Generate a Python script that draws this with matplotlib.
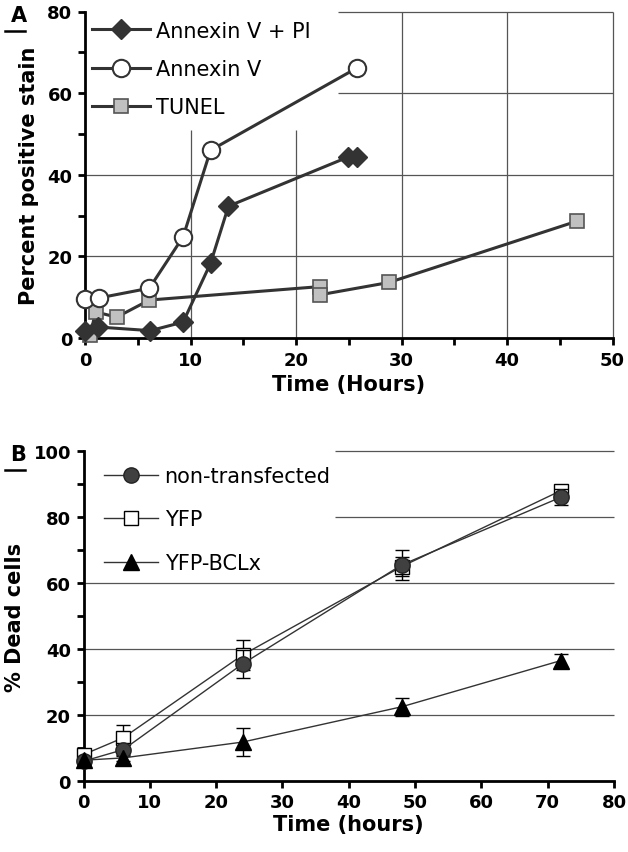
import numpy as np
import matplotlib
matplotlib.use("Agg")
import matplotlib.pyplot as plt
from matplotlib.lines import Line2D

# ---- panel A data ----
pi_x = [0, 1.2, 6.2, 9.3, 11.9, 13.6, 24.9, 25.8]
pi_y = [1.8, 2.7, 1.8, 3.9, 18.3, 32.3, 44.3, 44.3]
anx_x = [0, 1.3, 6.1, 9.3, 11.9, 25.8]
anx_y = [9.6, 9.8, 12.2, 24.8, 46.0, 66.2]
tun_x = [0.5, 1.0, 3.0, 6.1, 22.3, 22.3, 28.8, 46.6]
tun_y = [0.8, 6.4, 5.1, 9.3, 12.6, 10.6, 13.6, 28.6]

# ---- panel B data ----
hours = [0, 6, 24, 48, 72]
nontr = [6.0, 9.5, 35.5, 65.5, 86.0]
nontr_err = [1.5, 2.0, 4.3, 4.5, 2.5]
yfp = [8.0, 13.1, 38.2, 65.0, 88.0]
yfp_err = [1.5, 4.0, 4.5, 3.0, 1.0]
bclx = [6.3, 7.0, 11.8, 22.5, 36.5]
bclx_err = [1.0, 1.0, 4.3, 2.8, 2.0]

W, H = 628, 853
fig = plt.figure(figsize=(W / 100, H / 100), dpi=100)


def px_axes(l, r, t, b):
    return fig.add_axes([l / W, 1 - b / H, (r - l) / W, (b - t) / H])


def style(ax):
    for s in ["top", "right"]:
        ax.spines[s].set_visible(False)
    for s in ["left", "bottom"]:
        ax.spines[s].set_linewidth(2.0)
    ax.tick_params(which="both", direction="out", length=5, width=2.0)
    ax.tick_params(axis="both", labelsize=13, pad=4)
    for lab in ax.get_xticklabels() + ax.get_yticklabels():
        lab.set_fontweight("bold")


dk = "#333333"
grid = "#555555"

# ================= Panel A =================
axA = px_axes(85, 612.5, 12.5, 339)
axA.set_xlim(0, 50)
axA.set_ylim(0, 80)
axA.vlines([10, 20], 0, 51, color=grid, lw=0.9, zorder=0, clip_on=False)
axA.vlines([30, 40, 50], 0, 80, color=grid, lw=0.9, zorder=0, clip_on=False)
axA.hlines([20, 40], 0, 50, color=grid, lw=0.9, zorder=0, clip_on=False)
axA.hlines([60, 80], 24, 50, color=grid, lw=0.9, zorder=0, clip_on=False)

axA.plot(tun_x, tun_y, "-s", color=dk, lw=2.2, ms=10, mfc="#c0c0c0",
         mec="#555555", mew=1.2, clip_on=False, zorder=3, label="TUNEL")
axA.plot(pi_x, pi_y, "-D", color=dk, lw=2.2, ms=10, mfc=dk, mec=dk,
         clip_on=False, zorder=4, label="Annexin V + PI")
axA.plot(anx_x, anx_y, "-o", color=dk, lw=2.2, ms=12.5, mfc="white",
         mec=dk, mew=1.5, clip_on=False, zorder=5, label="Annexin V")

axA.set_xticks(np.arange(0, 51, 10))
axA.set_xticks(np.arange(5, 50, 10), minor=True)
axA.set_yticks(np.arange(0, 81, 20))
axA.set_yticks(np.arange(10, 80, 20), minor=True)
style(axA)
axA.set_xlabel("Time (Hours)", fontsize=15, fontweight="bold", labelpad=4)
axA.set_ylabel("Percent positive stain", fontsize=15, fontweight="bold", labelpad=6)

h, l = axA.get_legend_handles_labels()
order = [1, 2, 0]
axA.legend([h[i] for i in order], [l[i] for i in order], loc="upper left",
           bbox_to_anchor=(0.014, 0.972), frameon=False, fontsize=15,
           handlelength=2.75, handletextpad=0.3, labelspacing=0.88,
           borderpad=0, borderaxespad=0, numpoints=1)

# ================= Panel B =================
axB = px_axes(83.5, 614, 452, 782)
axB.set_xlim(0, 80)
axB.set_ylim(0, 100)
axB.hlines([20, 40, 60], 0, 80, color=grid, lw=0.9, zorder=0, clip_on=False)
axB.hlines([80, 100], 38, 80, color=grid, lw=0.9, zorder=0, clip_on=False)

axB.errorbar(hours, yfp, yerr=yfp_err, fmt="-s", color=dk, lw=1.0, ms=10,
             mfc="white", mec="black", mew=1.0, ecolor="black", elinewidth=1.0,
             capsize=5, capthick=1.0, clip_on=False, zorder=3, label="YFP")
axB.errorbar(hours, nontr, yerr=nontr_err, fmt="-o", color=dk, lw=1.0, ms=11,
             mfc="#404040", mec="#222222", ecolor="black", elinewidth=1.0,
             capsize=5, capthick=1.0, clip_on=False, zorder=4, label="non-transfected")
axB.errorbar(hours, bclx, yerr=bclx_err, fmt="-^", color=dk, lw=1.0, ms=11,
             mfc="black", mec="black", ecolor="black", elinewidth=1.0,
             capsize=5, capthick=1.0, clip_on=False, zorder=4, label="YFP-BCLx")

axB.set_xticks(np.arange(0, 81, 10))
axB.set_yticks(np.arange(0, 101, 20))
axB.set_yticks(np.arange(10, 100, 20), minor=True)
style(axB)
axB.set_xlabel("Time (hours)", fontsize=15, fontweight="bold", labelpad=2)
axB.set_ylabel("% Dead cells", fontsize=15, fontweight="bold", labelpad=6)

hB = [Line2D([], [], color=dk, lw=1.0, marker="o", ms=11, mfc="#404040", mec="#222222"),
      Line2D([], [], color=dk, lw=1.0, marker="s", ms=10, mfc="white", mec="black"),
      Line2D([], [], color=dk, lw=1.0, marker="^", ms=11, mfc="black", mec="black")]
axB.legend(hB, ["non-transfected", "YFP", "YFP-BCLx"], loc="upper left",
           bbox_to_anchor=(0.039, 0.955), frameon=False, fontsize=15,
           handlelength=2.6, handletextpad=0.3, labelspacing=1.13,
           borderpad=0, borderaxespad=0, numpoints=1)

# panel letters with underline
for letter, y in [("A", 16), ("B", 455)]:
    fig.text(18.5 / W, 1 - y / H, letter, fontsize=15, fontweight="bold",
             ha="center", va="center")
    fig.add_artist(Line2D([5 / W, 25 / W], [1 - (y + 16) / H] * 2,
                          color="black", lw=1.8))

fig.savefig("out.png", dpi=100)
